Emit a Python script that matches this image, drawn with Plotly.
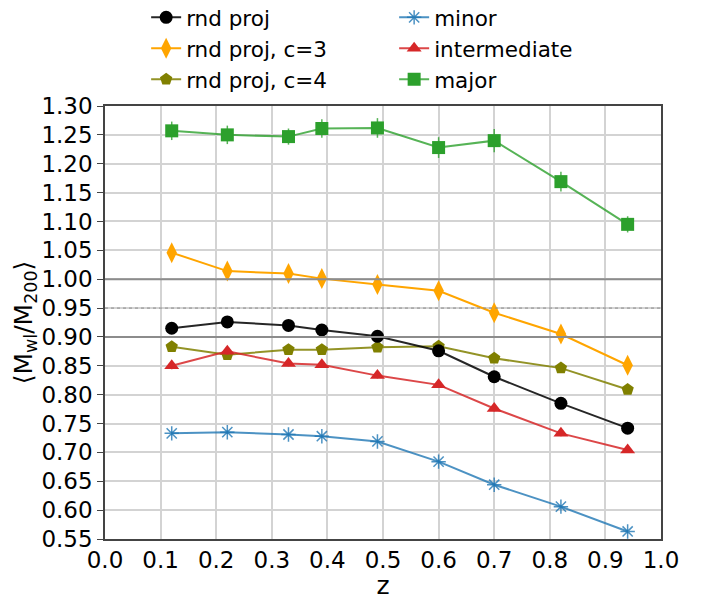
import plotly.graph_objects as go

z = [0.12, 0.22, 0.33, 0.39, 0.49, 0.60, 0.70, 0.82, 0.94]

rnd_proj = [0.915, 0.926, 0.920, 0.912, 0.901, 0.876, 0.831, 0.785, 0.742]
rnd_proj_err = [0.004, 0.004, 0.004, 0.004, 0.004, 0.004, 0.004, 0.004, 0.004]
rnd_c3 = [1.046, 1.014, 1.010, 1.001, 0.991, 0.980, 0.942, 0.905, 0.851]
rnd_c3_err = [0.008, 0.008, 0.008, 0.008, 0.008, 0.008, 0.008, 0.008, 0.008]
rnd_c4 = [0.883, 0.869, 0.878, 0.878, 0.882, 0.884, 0.863, 0.846, 0.809]
rnd_c4_err = [0.004, 0.004, 0.004, 0.004, 0.004, 0.004, 0.004, 0.004, 0.004]
minor = [0.733, 0.735, 0.731, 0.728, 0.719, 0.684, 0.644, 0.606, 0.563]
minor_err = [0.003, 0.003, 0.003, 0.003, 0.003, 0.003, 0.003, 0.003, 0.003]
intermediate = [0.850, 0.875, 0.854, 0.852, 0.833, 0.817, 0.776, 0.733, 0.704]
intermediate_err = [0.006, 0.006, 0.005, 0.005, 0.005, 0.005, 0.005, 0.005, 0.005]
major = [1.257, 1.250, 1.247, 1.261, 1.262, 1.228, 1.240, 1.169, 1.095]
major_err = [0.016, 0.016, 0.014, 0.016, 0.017, 0.018, 0.020, 0.017, 0.014]

series = [
    ("rnd proj", rnd_proj, rnd_proj_err, "rgba(0,0,0,0.85)", "black", "circle", 13, 1),
    ("minor", minor, minor_err, "rgba(31,119,180,0.8)", "rgba(31,119,180,0.8)", "asterisk-open", 12, 2),
    ("rnd proj, c=3", rnd_c3, rnd_c3_err, "rgba(255,165,0,1)", "#FFA500", "diamond-tall", 15, 3),
    ("intermediate", intermediate, intermediate_err, "rgba(214,39,40,0.85)", "#d62728", "triangle-up", 13, 4),
    ("rnd proj, c=4", rnd_c4, rnd_c4_err, "rgba(128,128,0,0.85)", "#808000", "pentagon", 13, 5),
    ("major", major, major_err, "rgba(44,160,44,0.8)", "#2ca02c", "square", 13, 6),
]

fig = go.Figure()

# reference lines
fig.add_hline(y=1.0, line=dict(color="#8c8c8c", width=2))
fig.add_hline(y=0.9, line=dict(color="#8c8c8c", width=2))
fig.add_hline(y=0.95, line=dict(color="#8c8c8c", width=1, dash="dot"))

draw_order = [5, 2, 4, 0, 3, 1]
for i in draw_order:
    name, y, err, lc, mc, sym, size, rank = series[i]
    mline = dict(width=1.5, color=mc) if sym == "asterisk-open" else dict(width=0)
    fig.add_trace(go.Scatter(
        x=z, y=y, name=name, mode="lines+markers", legendrank=rank,
        line=dict(color=lc, width=2),
        marker=dict(symbol=sym, size=size, color=mc, line=mline),
        error_y=dict(type="data", array=err, visible=True, color=lc, thickness=1.5, width=0),
    ))

fig.update_layout(
    width=700, height=592,
    margin=dict(l=97, r=47, t=98, b=61, autoexpand=False),
    paper_bgcolor="white", plot_bgcolor="white",
    font=dict(family="DejaVu Sans", size=21, color="black"),
    showlegend=True,
    legend=dict(
        orientation="h", x=0.074, y=1.252, xanchor="left", yanchor="top",
        yref="paper", entrywidth=203, entrywidthmode="pixels",
        font=dict(size=21.5), bgcolor="rgba(0,0,0,0)", tracegroupgap=0,
        traceorder="normal",
    ),
    xaxis=dict(
        range=[0, 1.0], dtick=0.1, tickformat=".1f",
        showgrid=True, gridcolor="#d3d3d3", gridwidth=1.5,
        showline=True, linecolor="#444444", linewidth=1.5, mirror=True,
        ticks="", zeroline=False,
        minor=dict(ticks="outside", ticklen=4, tickcolor="#444444", dtick=0.1, tick0=0, showgrid=False),
        title=dict(text="z", font=dict(size=25), standoff=10),
        tickfont=dict(size=23),
    ),
    yaxis=dict(
        range=[0.55, 1.30], dtick=0.05, tickformat=".2f",
        showgrid=True, gridcolor="#d3d3d3", gridwidth=1.5,
        showline=True, linecolor="#444444", linewidth=1.5, mirror=True,
        ticks="outside", ticklen=6, tickcolor="#444444",
        zeroline=False,
        title=dict(text="⟨M<sub>wl</sub>/M<sub>200</sub>⟩", font=dict(size=25), standoff=0),
        tickfont=dict(size=23),
    ),
)

fig.write_html("out.html")
